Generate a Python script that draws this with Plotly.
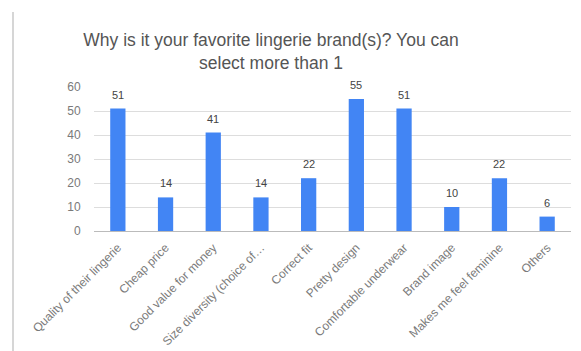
import plotly.graph_objects as go

categories = [
    "Quality of their lingerie",
    "Cheap price",
    "Good value for money",
    "Size diversity (choice of…",
    "Correct fit",
    "Pretty design",
    "Comfortable underwear",
    "Brand image",
    "Makes me feel feminine",
    "Others",
]
values = [51, 14, 41, 14, 22, 55, 51, 10, 22, 6]
y_ticks = [0, 10, 20, 30, 40, 50, 60]

W, H = 581, 351
L, R, T, B = 94, 10, 87, 120
pw = W - L - R
ph = H - T - B

fig = go.Figure()
fig.add_trace(go.Bar(
    x=categories, y=values,
    marker=dict(color="#4285F4", line=dict(width=0)),
    hoverinfo="x+y",
))

for c, v in zip(categories, values):
    fig.add_annotation(
        x=c, y=v, text=str(v), showarrow=False,
        yanchor="bottom", yshift=6,
        font=dict(family="Arial, Liberation Sans, sans-serif", size=11, color="#444444"),
    )

# left border line of the screenshot
fig.add_shape(
    type="line", xref="paper", yref="paper",
    x0=(13 - L) / pw, x1=(13 - L) / pw,
    y0=(T + ph - H) / ph, y1=(T + ph - 12) / ph,
    line=dict(color="#c8c8c8", width=1.5),
)

fig.update_layout(
    width=W, height=H,
    margin=dict(l=L, r=R, t=T, b=B, pad=0, autoexpand=False),
    paper_bgcolor="white", plot_bgcolor="white",
    bargap=0.68,
    showlegend=False,
    font=dict(family="Arial, Liberation Sans, sans-serif", color="#666666"),
    title=dict(
        text="Why is it your favorite lingerie brand(s)? You can<br>select more than 1",
        x=271 / W, xanchor="center",
        y=1 - 46 / H, yanchor="middle",
        font=dict(size=17.5, color="#555555"),
    ),
    xaxis=dict(
        tickangle=-45,
        tickfont=dict(size=12, color="#7a7a7a"),
        showgrid=False, showline=False,
        ticks="outside", ticklen=4, tickcolor="rgba(0,0,0,0)",
        fixedrange=True, automargin=False,
    ),
    yaxis=dict(
        range=[0, 60], tickvals=y_ticks,
        tickfont=dict(size=12, color="#7a7a7a"),
        gridcolor="#dddddd", gridwidth=1,
        zeroline=True, zerolinecolor="#bbbbbb", zerolinewidth=1,
        showline=False, ticks="outside", ticklen=10, tickcolor="rgba(0,0,0,0)",
        fixedrange=True, automargin=False,
    ),
)

fig.write_html("out.html")
